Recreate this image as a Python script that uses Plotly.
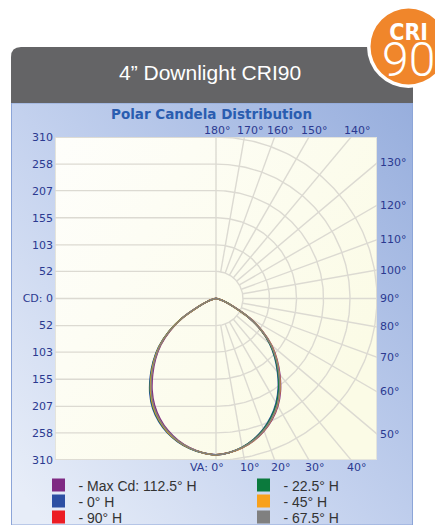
import base64
import numpy as np
import plotly.graph_objects as go

# ---------------- data ----------------
VERTICAL_ANGLES = [0, 5, 10, 15, 20, 25, 30, 35, 40, 45, 50, 55, 60, 65, 70, 75, 80, 85, 90]

SERIES_NAMES = ["- Max Cd: 112.5° H", "- 0° H", "- 90° H", "- 22.5° H", "- 45° H", "- 67.5° H"]
SERIES_COLORS = ["#7f2a83", "#2d4fa3", "#ec1c24", "#0b7a3d", "#f8a11c", "#808080"]

# candela, right half (H plane) and left half (H+180 plane)
CD_MAX_R = [300, 297, 291.3, 282.6, 270.9, 256.2, 238.4, 216.5, 191.5, 166.3, 140.1, 108.8, 74.4, 38.2, 20.1, 9, 3, 1, 0]
CD_MAX_L = [300, 297, 290.9, 281.9, 269.8, 254.7, 236.6, 214.6, 189.6, 164.7, 138.7, 107.8, 73.9, 38, 20, 9, 3, 1, 0]
CD_0_R = [300, 296.7, 289.9, 279.7, 266.4, 250.2, 231.3, 208.9, 184.1, 159.7, 134.7, 105, 72.2, 37.3, 19.7, 8.9, 3, 1, 0]
CD_0_L = [300, 297.3, 292.3, 284.7, 274.2, 260.7, 243.8, 222.2, 197, 171.3, 144.1, 111.6, 76.1, 38.8, 20.3, 9.1, 3, 1, 0]
CD_90_R = [300, 296.9, 290.6, 281.2, 268.7, 253.2, 234.9, 212.7, 187.8, 163, 137.4, 106.9, 73.3, 37.7, 19.9, 9, 3, 1, 0]
CD_90_L = [300, 297.2, 291.6, 283.3, 272, 257.7, 240.2, 218.4, 193.3, 168, 141.4, 109.7, 75, 38.4, 20.1, 9, 3, 1, 0]
CD_22_R = [300, 296.8, 290.3, 280.5, 267.6, 251.7, 233.1, 210.8, 186, 161.4, 136, 105.9, 72.8, 37.5, 19.8, 9, 3, 1, 0]
CD_22_L = [300, 297.2, 292, 284, 273.1, 259.2, 242, 220.3, 195.2, 169.6, 142.8, 110.7, 75.6, 38.6, 20.2, 9.1, 3, 1, 0]
CD_45_R = [300, 297, 290.9, 281.9, 269.8, 254.7, 236.6, 214.6, 189.6, 164.7, 138.7, 107.8, 73.9, 38, 20, 9, 3, 1, 0]
CD_45_L = [300, 297.2, 291.7, 283.6, 272.5, 258.3, 240.9, 219.2, 194.1, 168.6, 142, 110.1, 75.2, 38.5, 20.2, 9.1, 3, 1, 0]
CD_67_R = [300, 296.9, 290.8, 281.5, 269.2, 254, 235.8, 213.7, 188.7, 163.8, 138.1, 107.3, 73.6, 37.8, 19.9, 9, 3, 1, 0]
CD_67_L = [300, 297.1, 291.4, 282.9, 271.4, 257, 239.3, 217.5, 192.4, 167.1, 140.8, 109.2, 74.7, 38.3, 20.1, 9, 3, 1, 0]

SERIES_R = [CD_MAX_R, CD_0_R, CD_90_R, CD_22_R, CD_45_R, CD_67_R]
SERIES_L = [CD_MAX_L, CD_0_L, CD_90_L, CD_22_L, CD_45_L, CD_67_L]

CD_MAX_SCALE = 310
CD_TICKS = [310, 258, 207, 155, 103, 52, 0, -52, -103, -155, -207, -258, -310]
CD_TICK_TEXT = ["310", "258", "207", "155", "103", "52", "CD: 0", "52", "103", "155", "207", "258", "310"]
RING_VALUES = [52, 103, 155, 207, 258, 310]
SPOKE_ANGLES = [10, 20, 30, 40, 50, 60, 70, 80, 90, 100, 110, 120, 130, 140, 150, 160, 170]
BOTTOM_ANGLE_LABELS = [0, 10, 20, 30, 40]
RIGHT_ANGLE_LABELS = [50, 60, 70, 80, 90, 100, 110, 120, 130]
TOP_ANGLE_LABELS = [180, 170, 160, 150, 140]

HEADER_TITLE = "4\u201d Downlight CRI90"
PANEL_TITLE = "Polar Candela Distribution"

# ---------------- layout geometry ----------------
W, H = 435, 525
ML, MR, MT, MB = 55, 58, 137, 65
PW, PH = W - ML - MR, H - MT - MB


def pxx(px):
    return (px - ML) / PW


def pxy(py):
    return 1 - (py - MT) / PH


NAVY = "#2b3990"
GRID = "#dcdad2"
TICKFONT = dict(family="DejaVu Sans, Verdana, sans-serif", size=11, color=NAVY)

fig = go.Figure()

# ---- grid: left half horizontal lines + vertical centre line ----
gx, gy = [], []
for v in CD_TICKS:
    gx += [-CD_MAX_SCALE, 0, None]
    gy += [v, v, None]
gx += [0, 0, None]
gy += [-CD_MAX_SCALE, CD_MAX_SCALE, None]
fig.add_trace(go.Scatter(x=gx, y=gy, mode="lines", line=dict(color=GRID, width=1.4),
                         hoverinfo="skip", showlegend=False))

# ---- grid: rings (right half) ----
t = np.radians(np.linspace(0, 180, 181))
rx, ry = [], []
for r in RING_VALUES:
    rx += list(r * np.sin(t)) + [None]
    ry += list(-r * np.cos(t)) + [None]
fig.add_trace(go.Scatter(x=rx, y=ry, mode="lines", line=dict(color=GRID, width=1.4),
                         hoverinfo="skip", showlegend=False))

# ---- grid: spokes ----
sx, sy = [], []
for a in SPOKE_ANGLES:
    ar = np.radians(a)
    sx += [RING_VALUES[0] * np.sin(ar), 3 * CD_MAX_SCALE * np.sin(ar), None]
    sy += [-RING_VALUES[0] * np.cos(ar), -3 * CD_MAX_SCALE * np.cos(ar), None]
fig.add_trace(go.Scatter(x=sx, y=sy, mode="lines", line=dict(color=GRID, width=1.4),
                         hoverinfo="skip", showlegend=False))

# ---- candela curves ----
va = np.radians(np.array(VERTICAL_ANGLES, dtype=float))
for name, color, R, L in zip(SERIES_NAMES, SERIES_COLORS, SERIES_R, SERIES_L):
    R = np.array(R, dtype=float)
    L = np.array(L, dtype=float)
    xl = (-L * np.sin(va))[::-1]
    yl = (-L * np.cos(va))[::-1]
    xr = (R * np.sin(va))[1:]
    yr = (-R * np.cos(va))[1:]
    fig.add_trace(go.Scatter(x=np.concatenate([xl, xr]), y=np.concatenate([yl, yr]),
                             mode="lines", line=dict(color=color, width=1.5, shape="spline", smoothing=1.0),
                             name=name, legendgroup=name, showlegend=False, hoverinfo="skip"))

# ---- legend entries: one small legend per entry, two columns of three ----
LEG_COL_X = [38.5, 243.5]
LEG_ROW_TOP = [469.5, 485.5, 501.5]
legend_layouts = {}
for i, (name, color) in enumerate(zip(SERIES_NAMES, SERIES_COLORS)):
    key = "legend" if i == 0 else f"legend{i + 1}"
    col, row = divmod(i, 3)
    fig.add_trace(go.Scatter(x=[None], y=[None], mode="markers",
                             marker=dict(symbol="square", size=13, color=color),
                             name=name, legendgroup=name, showlegend=True, legend=key))
    legend_layouts[key] = dict(x=pxx(LEG_COL_X[col]), y=pxy(LEG_ROW_TOP[row]), xanchor="left", yanchor="top",
                               bgcolor="rgba(0,0,0,0)", borderwidth=0,
                               font=dict(family="Liberation Sans, Arial, sans-serif", size=14, color="#333333"))

# ---- angle labels ----
ann = []
for a in BOTTOM_ANGLE_LABELS:
    ar = np.radians(a)
    xv = CD_MAX_SCALE * np.tan(ar)
    if a == 0:
        ann.append(dict(x=xv, y=-CD_MAX_SCALE, text="VA: 0°", xanchor="right", yanchor="top",
                        xshift=10, yshift=1, showarrow=False, font=TICKFONT))
    else:
        ann.append(dict(x=xv, y=-CD_MAX_SCALE, text=f"{a}°", xanchor="center", yanchor="top",
                        xshift=6, yshift=1, showarrow=False, font=TICKFONT))
for a in RIGHT_ANGLE_LABELS:
    ar = np.radians(a)
    yv = -CD_MAX_SCALE * np.cos(ar) / np.sin(ar)
    ann.append(dict(x=CD_MAX_SCALE, y=yv, text=f"{a}°", xanchor="left", yanchor="middle",
                    xshift=1, showarrow=False, font=TICKFONT))
for a in TOP_ANGLE_LABELS:
    ar = np.radians(a)
    xv = CD_MAX_SCALE * np.sin(ar) / (-np.cos(ar))
    ann.append(dict(x=xv, y=CD_MAX_SCALE, text=f"{a}°", xanchor="center", yanchor="bottom",
                    xshift=1 if a == 180 else 6, yshift=-2, showarrow=False, font=TICKFONT))

# titles
ann.append(dict(xref="paper", yref="paper", x=pxx(211.5), y=pxy(114), text=f"<b>{PANEL_TITLE}</b>",
                showarrow=False, xanchor="center", yanchor="middle",
                font=dict(family="DejaVu Sans, Verdana, sans-serif", size=13.5, color="#2a5db0")))
ann.append(dict(xref="paper", yref="paper", x=pxx(209.5), y=pxy(73), text=HEADER_TITLE,
                showarrow=False, xanchor="center", yanchor="middle",
                font=dict(family="Liberation Sans, Arial, sans-serif", size=21, color="white")))
badge_text = ("<span style='font-family:\"Liberation Sans Narrow\",\"DejaVu Sans Condensed\",\"Liberation Sans\";"
              "font-size:23px;font-weight:bold'>CRI</span><br>"
              "<span style='font-size:48px;font-weight:300'>90</span>")
ann.append(dict(xref="paper", yref="paper", x=pxx(408), y=pxy(53.5), text=badge_text,
                showarrow=False, xanchor="center", yanchor="middle",
                font=dict(family="Roboto, Liberation Sans, sans-serif", size=28, color="white", weight=300)))

# ---- background images (gradients) ----
panel_svg = """<svg xmlns='http://www.w3.org/2000/svg' width='402' height='422' viewBox='0 0 402 422' preserveAspectRatio='none'>
<defs><linearGradient id='g' x1='0' y1='0.9' x2='1' y2='0'>
<stop offset='0' stop-color='#e7edf8'/><stop offset='0.45' stop-color='#c3d1ee'/><stop offset='1' stop-color='#97aedd'/>
</linearGradient></defs>
<rect x='0' y='0' width='402' height='422' fill='url(#g)'/>
<rect x='0.5' y='0' width='401' height='422' fill='none' stroke='#8ca5d8' stroke-width='1'/>
</svg>"""
plot_svg = """<svg xmlns='http://www.w3.org/2000/svg' width='322' height='323' viewBox='0 0 322 323' preserveAspectRatio='none'>
<defs><linearGradient id='p' x1='0' y1='0' x2='1' y2='0.6'>
<stop offset='0' stop-color='#fefefb'/><stop offset='1' stop-color='#fbfbe6'/>
</linearGradient></defs>
<rect x='0' y='0' width='322' height='323' fill='url(#p)'/>
<rect x='0.5' y='0.5' width='321' height='322' fill='none' stroke='#e4e4dc' stroke-width='1'/>
</svg>"""


def uri(s):
    return "data:image/svg+xml;base64," + base64.b64encode(s.encode()).decode()


images = [
    dict(source=uri(panel_svg), xref="paper", yref="paper", x=pxx(11), y=pxy(103),
         sizex=402 / PW, sizey=422 / PH, xanchor="left", yanchor="top", sizing="stretch", layer="below"),
    dict(source=uri(plot_svg), xref="paper", yref="paper", x=0, y=1,
         sizex=1, sizey=1, xanchor="left", yanchor="top", sizing="stretch", layer="below"),
]

# ---- header shapes ----
x0, x1, y0, y1, rr = 11, 413, 47, 103, 10
path = (f"M {pxx(x0)},{pxy(y1)} L {pxx(x0)},{pxy(y0 + rr)} Q {pxx(x0)},{pxy(y0)} {pxx(x0 + rr)},{pxy(y0)} "
        f"L {pxx(x1 - rr)},{pxy(y0)} Q {pxx(x1)},{pxy(y0)} {pxx(x1)},{pxy(y0 + rr)} L {pxx(x1)},{pxy(y1)} Z")
cx, cy = 408.5, 46.5
shapes = [
    dict(type="path", xref="paper", yref="paper", path=path, fillcolor="#646466", line=dict(width=0)),
    dict(type="circle", xref="paper", yref="paper", x0=pxx(cx - 41.5), x1=pxx(cx + 41.5),
         y0=pxy(cy + 41.5), y1=pxy(cy - 41.5), fillcolor="white", line=dict(width=0)),
    dict(type="circle", xref="paper", yref="paper", x0=pxx(cx - 38), x1=pxx(cx + 38),
         y0=pxy(cy + 38), y1=pxy(cy - 38), fillcolor="#f0862b", line=dict(width=0)),
]

fig.update_layout(
    width=W, height=H,
    margin=dict(l=ML, r=MR, t=MT, b=MB, autoexpand=False),
    paper_bgcolor="white", plot_bgcolor="#fdfdf2",
    images=images, shapes=shapes, annotations=ann,
    showlegend=True,
    xaxis=dict(range=[-CD_MAX_SCALE, CD_MAX_SCALE], showgrid=False, zeroline=False,
               showticklabels=False, ticks="", fixedrange=True),
    yaxis=dict(range=[-CD_MAX_SCALE, CD_MAX_SCALE], showgrid=False, zeroline=False,
               tickvals=CD_TICKS, ticktext=CD_TICK_TEXT, ticks="", tickfont=TICKFONT,
               ticklabelstandoff=1, fixedrange=True),
    **legend_layouts,
)

fig.write_html("out.html", config={"displayModeBar": False, "staticPlot": True},
               post_script="document.body.style.margin='0';document.body.style.padding='0';"
                           "document.documentElement.style.overflow='hidden';")
